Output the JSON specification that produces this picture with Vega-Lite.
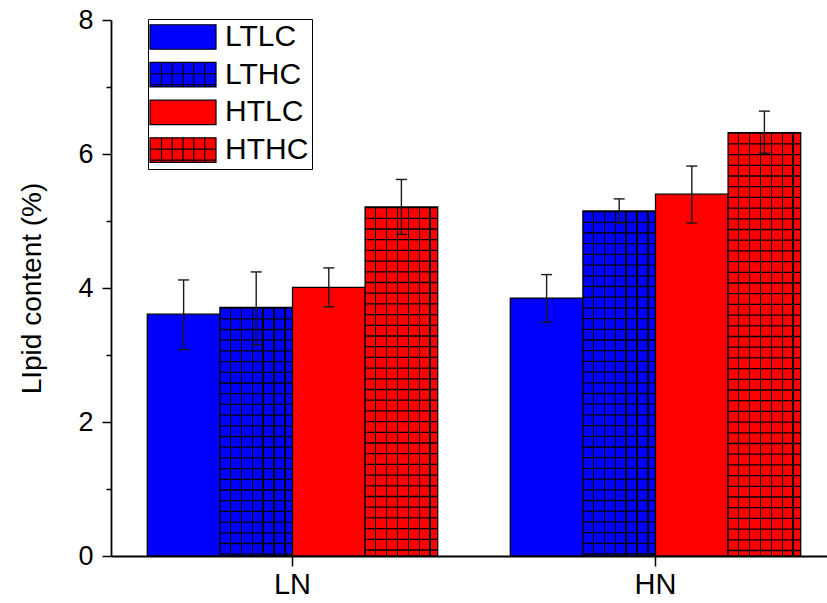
{
  "$schema": "https://vega.github.io/schema/vega-lite/v6.json",
  "width": 716,
  "height": 536,
  "autosize": {"type": "none"},
  "padding": {"left": 111, "top": 20, "right": 0, "bottom": 47},
  "background": "white",
  "config": {
    "view": {"stroke": null},
    "font": "Liberation Sans",
    "axis": {"labelColor": "black", "titleColor": "black", "domainColor": "black", "tickColor": "black", "grid": false}
  },
  "data": {
    "values": [
      {"group": "LN", "series": "LTLC", "value": 3.61, "lo": 3.08, "hi": 4.12},
      {"group": "LN", "series": "LTHC", "value": 3.71, "lo": 3.15, "hi": 4.24},
      {"group": "LN", "series": "HTLC", "value": 4.01, "lo": 3.72, "hi": 4.30},
      {"group": "LN", "series": "HTHC", "value": 5.21, "lo": 4.80, "hi": 5.62},
      {"group": "HN", "series": "LTLC", "value": 3.85, "lo": 3.49, "hi": 4.20},
      {"group": "HN", "series": "LTHC", "value": 5.15, "lo": 4.97, "hi": 5.33},
      {"group": "HN", "series": "HTLC", "value": 5.40, "lo": 4.97, "hi": 5.82},
      {"group": "HN", "series": "HTHC", "value": 6.32, "lo": 6.01, "hi": 6.64}
    ]
  },
  "encoding": {
    "x": {
      "field": "group", "type": "nominal", "sort": ["LN", "HN"],
      "scale": {"range": [0, 726], "paddingInner": 0.2, "paddingOuter": 0.1},
      "axis": {"title": null, "labelAngle": 0, "labelFontSize": 29, "labelPadding": 4, "tickSize": 10, "tickWidth": 1.5, "domainWidth": 1.8}
    },
    "xOffset": {
      "field": "series", "type": "nominal", "sort": ["LTLC", "LTHC", "HTLC", "HTHC"],
      "scale": {"paddingInner": 0, "paddingOuter": 0}
    }
  },
  "layer": [
    {
      "mark": {"type": "bar", "stroke": "black", "strokeWidth": 1.3},
      "encoding": {
        "y": {
          "field": "value", "type": "quantitative",
          "scale": {"domain": [0, 8], "nice": false},
          "axis": {
            "values": [0, 1, 2, 3, 4, 5, 6, 7, 8],
            "format": "d",
            "labelExpr": "datum.value % 2 === 0 ? datum.label : ''",
            "tickSize": {"condition": {"test": "datum.value % 2 === 1", "value": 5}, "value": 9},
            "tickWidth": 1.5, "domainWidth": 1.8,
            "labelFontSize": 27, "labelPadding": 9,
            "title": "LIpid content (%)", "titleFontSize": 28, "titleFontWeight": "normal", "titlePadding": 31
          }
        },
        "color": {
          "field": "series", "type": "nominal",
          "scale": {"domain": ["LTLC", "LTHC", "HTLC", "HTHC"], "range": ["#0000ff", "#0000ff", "#ff0000", "#ff0000"]},
          "legend": {
            "orient": "none", "legendX": 37, "legendY": -1,
            "title": null,
            "strokeColor": "black", "padding": 3,
            "symbolType": "M-2.64,-0.98H2.64V0.98H-2.64Z",
            "symbolSize": 625, "symbolStrokeColor": "black", "symbolStrokeWidth": 1.2, "symbolOpacity": 1,
            "symbolOffset": 17,
            "labelFontSize": 30, "labelOffset": 27, "labelColor": "black", "rowPadding": 7.7,
            "encode": {
              "symbols": {
                "update": {
                  "shape": [
                    {"test": "datum.value === 'LTHC' || datum.value === 'HTHC'", "value": "M-2.64,-0.98H2.64V0.98H-2.64Z M-1.72,-0.98V0.98 M-0.86,-0.98V0.98 M0,-0.98V0.98 M0.864,-0.98V0.98 M1.736,-0.98V0.98 M-2.64,-0.076H2.64 M-2.64,0.804H2.64"},
                    {"value": "M-2.64,-0.98H2.64V0.98H-2.64Z"}
                  ],
                  "stroke": {"value": "black"},
                  "strokeWidth": {"value": 1.2}
                }
              }
            }
          }
        }
      }
    },
    {
      "transform": [{"filter": "datum.series === 'LTHC' || datum.series === 'HTHC'"}],
      "mark": {
        "type": "bar",
        "fill": {
          "gradient": "linear", "x1": 0, "y1": 0, "x2": 1, "y2": 0,
          "stops": [
            {"offset": 0, "color": "rgba(0,0,0,0)"},
            {"offset": 0.136, "color": "rgba(0,0,0,0)"}, {"offset": 0.136, "color": "#000"}, {"offset": 0.154, "color": "#000"}, {"offset": 0.154, "color": "rgba(0,0,0,0)"},
            {"offset": 0.286, "color": "rgba(0,0,0,0)"}, {"offset": 0.286, "color": "#000"}, {"offset": 0.304, "color": "#000"}, {"offset": 0.304, "color": "rgba(0,0,0,0)"},
            {"offset": 0.436, "color": "rgba(0,0,0,0)"}, {"offset": 0.436, "color": "#000"}, {"offset": 0.454, "color": "#000"}, {"offset": 0.454, "color": "rgba(0,0,0,0)"},
            {"offset": 0.586, "color": "rgba(0,0,0,0)"}, {"offset": 0.586, "color": "#000"}, {"offset": 0.604, "color": "#000"}, {"offset": 0.604, "color": "rgba(0,0,0,0)"},
            {"offset": 0.736, "color": "rgba(0,0,0,0)"}, {"offset": 0.736, "color": "#000"}, {"offset": 0.754, "color": "#000"}, {"offset": 0.754, "color": "rgba(0,0,0,0)"},
            {"offset": 0.886, "color": "rgba(0,0,0,0)"}, {"offset": 0.886, "color": "#000"}, {"offset": 0.904, "color": "#000"}, {"offset": 0.904, "color": "rgba(0,0,0,0)"},
            {"offset": 1, "color": "rgba(0,0,0,0)"}
          ]
        },
        "stroke": null
      },
      "encoding": {"y": {"field": "value", "type": "quantitative"}}
    },
    {
      "transform": [{"filter": "datum.series === 'LTHC' || datum.series === 'HTHC'"}],
      "mark": {"type": "rule", "stroke": "black", "strokeWidth": 72, "strokeDash": [1.3, 9.4], "strokeCap": "butt"},
      "encoding": {"y": {"field": "value", "type": "quantitative"}, "y2": {"datum": 0}}
    },
    {
      "mark": {"type": "rule", "stroke": "#1a1a1a", "strokeWidth": 1.4},
      "encoding": {"y": {"field": "lo", "type": "quantitative"}, "y2": {"field": "hi"}}
    },
    {
      "mark": {"type": "tick", "orient": "horizontal", "size": 11, "thickness": 1.4, "color": "#1a1a1a", "opacity": 1},
      "encoding": {"y": {"field": "lo", "type": "quantitative"}}
    },
    {
      "mark": {"type": "tick", "orient": "horizontal", "size": 11, "thickness": 1.4, "color": "#1a1a1a", "opacity": 1},
      "encoding": {"y": {"field": "hi", "type": "quantitative"}}
    }
  ]
}
